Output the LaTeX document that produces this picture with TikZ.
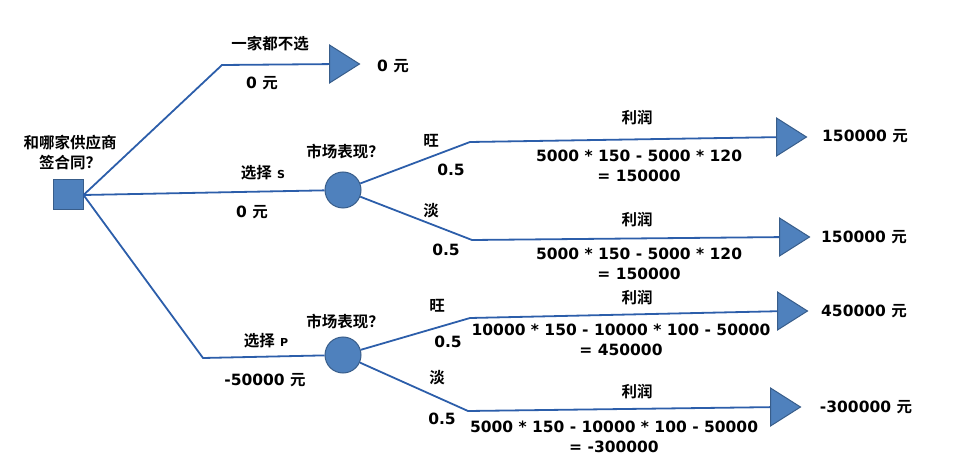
\documentclass[tikz,border=0pt]{standalone}
\usepackage{fontspec}
\setmainfont{DejaVu Sans}
\newfontfamily\cjk{Noto Sans CJK SC}[BoldFont={* Bold}]
\usetikzlibrary{shapes.geometric}

\definecolor{linkblue}{RGB}{44,94,170}
\definecolor{nodeblue}{RGB}{79,129,189}
\definecolor{edgeblue}{RGB}{56,93,138}
\newcommand\zh[1]{{\cjk #1}}

\begin{document}
\begin{tikzpicture}[
x=1pt,y=-1pt,
branch/.style={draw=linkblue,line width=1.8pt},
choice/.style={
draw=edgeblue,
fill=nodeblue,
line width=1pt,
minimum size=30pt,
inner sep=0pt
},
chance/.style={
circle,
draw=edgeblue,
fill=nodeblue,
line width=1pt,
minimum size=36pt,
inner sep=0pt
},
leaf/.style={
isosceles triangle,
isosceles triangle stretches,
draw=edgeblue,
fill=nodeblue,
line width=1pt,
minimum width=38pt,
minimum height=30pt,
inner sep=0pt,
anchor=west
},
lbl/.style={
font=\bfseries\fontsize{15.5}{20}\selectfont,
inner sep=0pt,
align=center
}
]
\useasboundingbox (0,0) rectangle (969,470);

%%%%%%%%%%%%%%%%%%%%%%%%%%%%%%%%%%%%%%%%%%%%%
% Decision and chance nodes
%%%%%%%%%%%%%%%%%%%%%%%%%%%%%%%%%%%%%%%%%%%%%

\node[choice] (start) at (68,195) {};
\node[lbl] (ask) at (70,153) {\zh{和哪家供应商}\\\zh{签合同？}};

\node[chance] (marketS) at (343,190) {};
\node[chance] (marketP) at (343,355) {};

\node[lbl] at (345,152) {\zh{市场表现？}};
\node[lbl] at (345,322) {\zh{市场表现？}};

%%%%%%%%%%%%%%%%%%%%%%%%%%%%%%%%%%%%%%%%%%%%%
% End nodes
%%%%%%%%%%%%%%%%%%%%%%%%%%%%%%%%%%%%%%%%%%%%%

\node[leaf] (none) at (329,64) {};
\node[leaf] (sHigh) at (776,137) {};
\node[leaf] (sLow) at (779,237) {};
\node[leaf] (pHigh) at (777,311) {};
\node[leaf] (pLow) at (770,407) {};

\node[lbl] at (393,66) {0 \zh{元}};
\node[lbl] at (865,136) {150000 \zh{元}};
\node[lbl] at (864,237) {150000 \zh{元}};
\node[lbl] at (864,311) {450000 \zh{元}};
\node[lbl] at (866,407) {-300000 \zh{元}};

%%%%%%%%%%%%%%%%%%%%%%%%%%%%%%%%%%%%%%%%%%%%%
% Bends
%%%%%%%%%%%%%%%%%%%%%%%%%%%%%%%%%%%%%%%%%%%%%

\coordinate (bendNone) at (222,65);
\coordinate (bendP) at (203,358);
\coordinate (bendSHigh) at (470,142);
\coordinate (bendSLow) at (472,240);
\coordinate (bendPHigh) at (470,318);
\coordinate (bendPLow) at (468,411);

%%%%%%%%%%%%%%%%%%%%%%%%%%%%%%%%%%%%%%%%%%%%%
% Connections
%%%%%%%%%%%%%%%%%%%%%%%%%%%%%%%%%%%%%%%%%%%%%

\draw[branch] (start.east)--(bendNone)--(none);

\draw[branch] (start.east)--(marketS);

\draw[branch] (start.east)--(bendP)--(marketP);

\draw[branch] (marketS)--(bendSHigh)--(sHigh);

\draw[branch] (marketS)--(bendSLow)--(sLow);

\draw[branch] (marketP)--(bendPHigh)--(pHigh);

\draw[branch] (marketP)--(bendPLow)--(pLow);

%%%%%%%%%%%%%%%%%%%%%%%%%%%%%%%%%%%%%%%%%%%%%
% Branch labels
%%%%%%%%%%%%%%%%%%%%%%%%%%%%%%%%%%%%%%%%%%%%%

\node[lbl] at (270,44) {\zh{一家都不选}};
\node[lbl] at (262,83) {0 \zh{元}};

\node[lbl] at (263,173) {\zh{选择} {\fontsize{11}{12}\selectfont S}};
\node[lbl] at (252,212) {0 \zh{元}};

\node[lbl] at (266,341) {\zh{选择} {\fontsize{11}{12}\selectfont P}};
\node[lbl] at (265,380) {-50000 \zh{元}};

\node[lbl] at (431,141) {\zh{旺}};
\node[lbl] at (451,170) {0.5};
\node[lbl] at (431,211) {\zh{淡}};
\node[lbl] at (446,250) {0.5};

\node[lbl] at (437,306) {\zh{旺}};
\node[lbl] at (448,342) {0.5};
\node[lbl] at (437,378) {\zh{淡}};
\node[lbl] at (442,419) {0.5};

%%%%%%%%%%%%%%%%%%%%%%%%%%%%%%%%%%%%%%%%%%%%%
% Profit labels
%%%%%%%%%%%%%%%%%%%%%%%%%%%%%%%%%%%%%%%%%%%%%

\node[lbl] at (637,118) {\zh{利润}};
\node[lbl] at (639,166) {5000 * 150 - 5000 * 120\\= 150000};

\node[lbl] at (637,220) {\zh{利润}};
\node[lbl] at (639,264) {5000 * 150 - 5000 * 120\\= 150000};

\node[lbl] at (637,298) {\zh{利润}};
\node[lbl] at (621,340) {10000 * 150 - 10000 * 100 - 50000\\= 450000};

\node[lbl] at (637,392) {\zh{利润}};
\node[lbl] at (614,437) {5000 * 150 - 10000 * 100 - 50000\\= -300000};

\end{tikzpicture}
\end{document}
